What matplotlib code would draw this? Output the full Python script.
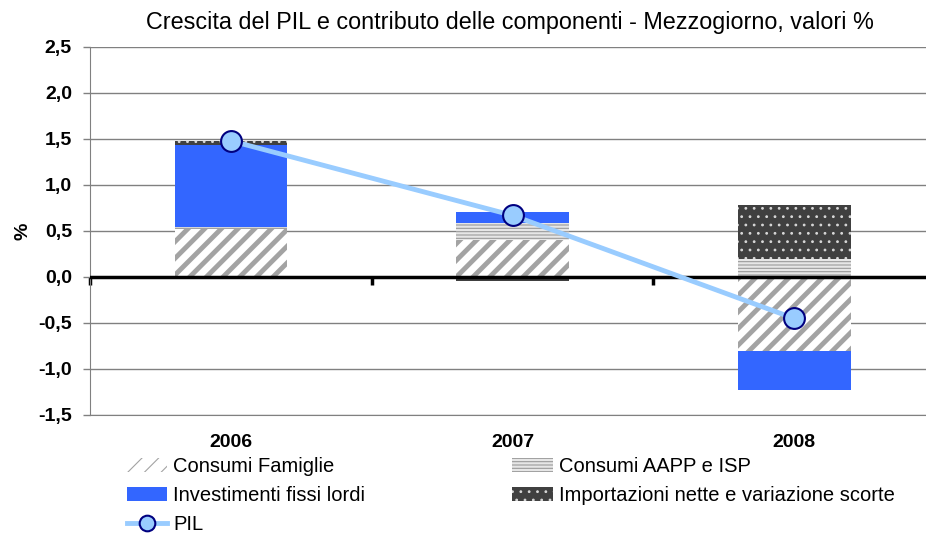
import numpy as np
import matplotlib.pyplot as plt
from matplotlib.ticker import FuncFormatter

plt.rcParams['font.family'] = ['Liberation Sans', 'DejaVu Sans']

anni = ['2006', '2007', '2008']
consumi_famiglie = [0.52, 0.40, -0.80]
consumi_aapp = [0.02, 0.19, 0.20]
investimenti = [0.89, 0.12, -0.43]
importazioni = [0.05, -0.04, 0.58]
pil = [1.48, 0.67, -0.45]

serie = [
    ('Consumi Famiglie', consumi_famiglie, dict(facecolor='white', edgecolor='#A3A3A3', hatch='//')),
    ('Consumi AAPP e ISP', consumi_aapp, dict(facecolor='#E6E6E6', edgecolor='#9A9A9A', hatch='-----')),
    ('Investimenti fissi lordi', investimenti, dict(facecolor='#3366FF', edgecolor='#3366FF')),
    ('Importazioni nette e variazione scorte', importazioni, dict(facecolor='#404040', edgecolor='#D8D8D8', hatch='..')),
]

fig = plt.figure(figsize=(9.26, 5.35), dpi=100)
ax = fig.add_axes([90 / 926, 1 - 415 / 535, 845 / 926, 368 / 535])

x = np.arange(len(anni))
pos_base = np.zeros(len(anni))
neg_base = np.zeros(len(anni))
handles = {}
for nome, valori, stile in serie:
    v = np.array(valori)
    base = np.where(v >= 0, pos_base, neg_base)
    hl = 3.5 if stile.get('hatch') == '//' else 0.8
    plt.rcParams['hatch.linewidth'] = hl
    bars = ax.bar(x, v, 0.4, bottom=base, linewidth=0, label=nome, zorder=3, **stile)
    for b in bars:
        if hasattr(b, 'set_hatch_linewidth'):
            b.set_hatch_linewidth(hl)
    handles[nome] = bars
    pos_base = pos_base + np.where(v >= 0, v, 0)
    neg_base = neg_base + np.where(v < 0, v, 0)

linea, = ax.plot(x, pil, color='#99CCFF', linewidth=3.5, marker='o', markersize=15,
                 markerfacecolor='#99CCFF', markeredgecolor='#000080', markeredgewidth=1.5,
                 label='PIL', zorder=5)

ax.set_xlim(-0.5, 2.5)
ax.set_ylim(-1.5, 2.5)
ax.set_yticks(np.arange(-1.5, 2.51, 0.5))
ax.yaxis.set_major_formatter(FuncFormatter(lambda v, p: f'{v:.1f}'.replace('.', ',')))
ax.grid(axis='y', color='#808080', linewidth=1, zorder=0)
ax.set_axisbelow(True)
ax.set_xticks(x)
ax.set_xticklabels(anni, fontweight='bold', fontsize=14)
ax.tick_params(axis='x', length=0, pad=14)
ax.tick_params(axis='y', labelsize=14, length=5, color='#808080', width=1, pad=8)
for t in ax.get_yticklabels():
    t.set_fontweight('bold')
for s in ['top', 'right']:
    ax.spines[s].set_visible(False)
for s in ['left', 'bottom']:
    ax.spines[s].set_color('#808080')
ax.set_ylabel('%', fontweight='bold', fontsize=14, labelpad=5)

# linea dello zero sopra le barre, con le tacche tra le categorie
ax.axhline(0, color='black', linewidth=2.5, zorder=4)
sec = ax.secondary_xaxis(1.5 / 4.0)
sec.set_xticks([-0.5, 0.5, 1.5, 2.5])
sec.set_xticklabels([])
sec.tick_params(length=6, width=2.5, color='black', direction='out')
sec.spines['bottom'].set_visible(False)

fig.text(510 / 926, 1 - 22 / 535, 'Crescita del PIL e contributo delle componenti - Mezzogiorno, valori %',
         ha='center', va='center', fontsize=16.8)

ordine = ['Consumi Famiglie', 'Investimenti fissi lordi', 'PIL',
          'Consumi AAPP e ISP', 'Importazioni nette e variazione scorte']
hh = [linea if n == 'PIL' else handles[n] for n in ordine]
fig.legend(hh, ordine, ncol=2, loc='upper left', bbox_to_anchor=(117 / 926, 1 - 447 / 535),
           frameon=False, fontsize=14.5, handlelength=2.0, handletextpad=0.3,
           columnspacing=7.3, labelspacing=0.5, borderpad=0, markerscale=0.75)

fig.savefig('out.png', dpi=100)
